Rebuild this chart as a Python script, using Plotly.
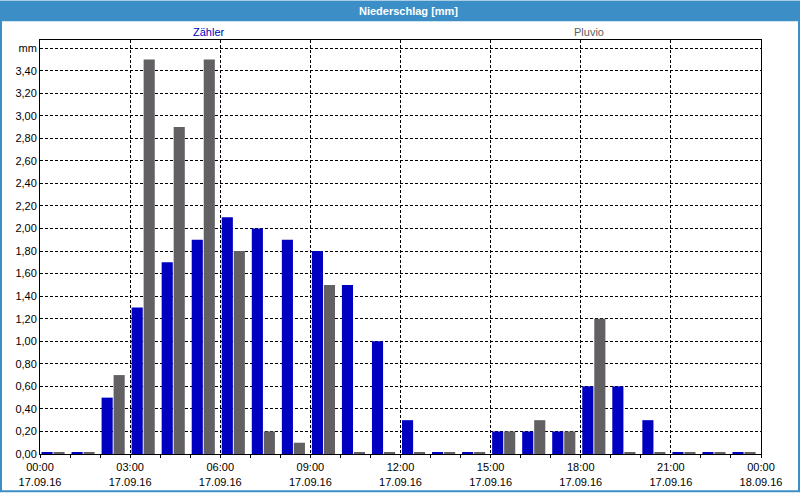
import plotly.graph_objects as go

# ---- data ----
hours = list(range(24))
zaehler = [0.01, 0.01, 0.50, 1.30, 1.70, 1.90, 2.10, 2.00, 1.90, 1.80, 1.50, 1.00,
           0.30, 0.01, 0.01, 0.20, 0.20, 0.20, 0.60, 0.60, 0.30, 0.01, 0.01, 0.01]
pluvio = [0.01, 0.01, 0.70, 3.50, 2.90, 3.50, 1.80, 0.20, 0.10, 1.50, 0.01, 0.01,
          0.01, 0.01, 0.01, 0.20, 0.30, 0.20, 1.20, 0.01, 0.01, 0.01, 0.01, 0.01]
series_names = ["Zähler", "Pluvio"]
x_tickvals = [0, 3, 6, 9, 12, 15, 18, 21, 24]
x_ticktext = ["00:00<br>17.09.16", "03:00<br>17.09.16", "06:00<br>17.09.16",
              "09:00<br>17.09.16", "12:00<br>17.09.16", "15:00<br>17.09.16",
              "18:00<br>17.09.16", "21:00<br>17.09.16", "00:00<br>18.09.16"]
y_tickvals = [0.0, 0.2, 0.4, 0.6, 0.8, 1.0, 1.2, 1.4, 1.6, 1.8, 2.0, 2.2, 2.4,
              2.6, 2.8, 3.0, 3.2, 3.4, 3.6]
y_ticktext = ["0,00", "0,20", "0,40", "0,60", "0,80", "1,00", "1,20", "1,40",
              "1,60", "1,80", "2,00", "2,20", "2,40", "2,60", "2,80", "3,00",
              "3,20", "3,40", "mm"]
title_text = "Niederschlag [mm]"

# ---- layout geometry (pixels) ----
W, H = 800, 500
L, R, T, B = 40, 761, 40, 461
BLUE = "#0000c0"
GRAY = "#636063"
FRAME = "#3c8fc6"
FONT = "Liberation Sans, Arial, sans-serif"


def px_x(p):
    return (p - L) / (R - L)


def px_y(p):
    return (B - p) / (B - T)


fig = go.Figure()
fig.add_trace(go.Bar(x=hours, y=zaehler, name=series_names[0], marker_color=BLUE,
                     marker_line_width=0, offset=0.05, width=0.37))
fig.add_trace(go.Bar(x=hours, y=pluvio, name=series_names[1], marker_color=GRAY,
                     marker_line_width=0, offset=0.45, width=0.37))

fig.update_layout(
    width=W, height=H, autosize=False,
    margin=dict(l=L, r=W - R, t=T, b=H - B, pad=0),
    paper_bgcolor="white", plot_bgcolor="white",
    barmode="overlay", showlegend=False,
    font=dict(family=FONT, size=11, color="black"),
    xaxis=dict(range=[0, 24], tickvals=x_tickvals, ticktext=x_ticktext,
               showgrid=True, gridcolor="black", griddash="3px,2px", gridwidth=1,
               showline=True, linecolor="black", linewidth=1, mirror=True,
               ticks="outside", ticklen=3, tickcolor="black",
               minor=dict(dtick=1, ticks="outside", ticklen=3, tickcolor="black",
                          showgrid=False),
               zeroline=False, tickfont=dict(size=11), fixedrange=True),
    yaxis=dict(range=[0, 3.672], tickvals=y_tickvals, ticktext=y_ticktext,
               showgrid=True, gridcolor="black", griddash="3px,2px", gridwidth=1,
               showline=True, linecolor="black", linewidth=1, mirror=True,
               ticks="", ticklen=0, zeroline=False, tickfont=dict(size=11),
               fixedrange=True),
)

shapes = [
    # title bar
    dict(type="rect", xref="paper", yref="paper", x0=px_x(0), x1=px_x(W),
         y0=px_y(21), y1=px_y(0), fillcolor=FRAME, line=dict(width=0), layer="above"),
    # window frame
    dict(type="rect", xref="paper", yref="paper", x0=px_x(1), x1=px_x(W - 1),
         y0=px_y(H - 1), y1=px_y(1), line=dict(color=FRAME, width=2), layer="above"),
]
fig.update_layout(shapes=shapes)

fig.add_annotation(text="<b>" + title_text + "</b>", xref="paper", yref="paper",
                   x=px_x(408), y=px_y(10.5), showarrow=False,
                   font=dict(family=FONT, size=11, color="white"),
                   xanchor="center", yanchor="middle")
fig.add_annotation(text=series_names[0], xref="paper", yref="paper",
                   x=px_x(209), y=px_y(32), showarrow=False,
                   font=dict(family=FONT, size=11, color=BLUE),
                   xanchor="center", yanchor="middle")
fig.add_annotation(text=series_names[1], xref="paper", yref="paper",
                   x=px_x(589), y=px_y(32), showarrow=False,
                   font=dict(family=FONT, size=11, color="#606060"),
                   xanchor="center", yanchor="middle")

fig.write_html("out.html", config=dict(displayModeBar=False, responsive=False),
               post_script="document.body.style.cssText='margin:0;padding:0;overflow:hidden;';")
